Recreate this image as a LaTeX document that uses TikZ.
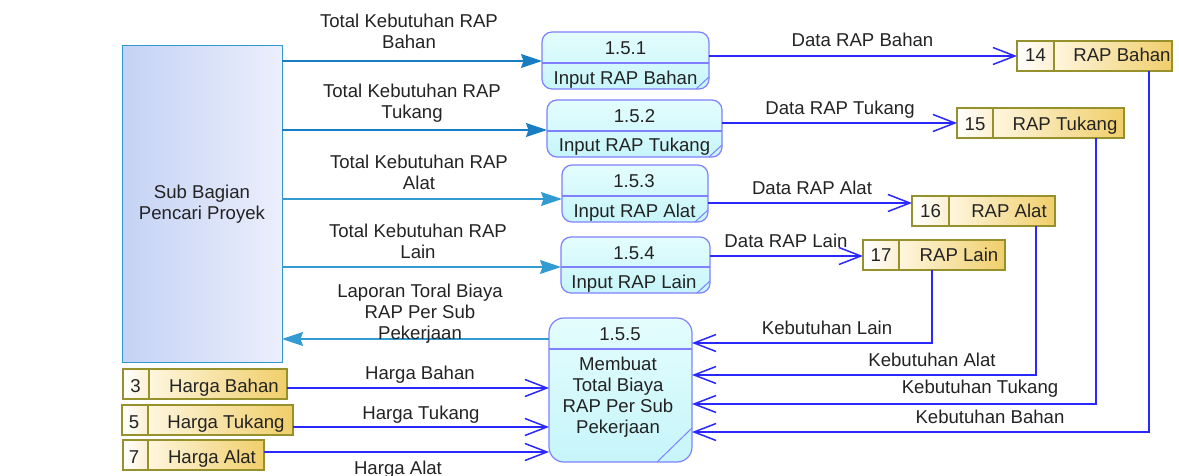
\documentclass[tikz,border=0pt]{standalone}
\usepackage{fontspec}
\setmainfont{Liberation Sans}
\usetikzlibrary{arrows.meta,calc}
\definecolor{procfillA}{RGB}{228,253,253}
\definecolor{procfillB}{RGB}{198,245,250}
\definecolor{procdraw}{RGB}{128,128,255}
\definecolor{entfillA}{RGB}{196,210,244}
\definecolor{entfillB}{RGB}{236,239,252}
\definecolor{entdraw}{RGB}{50,150,210}
\definecolor{entflowA}{RGB}{25,125,195}
\definecolor{entflowB}{RGB}{50,155,210}
\definecolor{flowblue}{RGB}{40,40,255}
\definecolor{stdraw}{RGB}{150,145,45}
\definecolor{stnumA}{RGB}{255,255,255}
\definecolor{stnumB}{RGB}{252,240,210}
\definecolor{stnameA}{RGB}{254,246,222}
\definecolor{stnameB}{RGB}{240,206,106}
\definecolor{txt}{RGB}{35,35,35}
\newcommand\storeparts[2]{%
  \draw[stname] (#1.north -| #2,0) rectangle (#1.south east);
  \draw[stnum] (#1.north west) rectangle (#1.south -| #2,0);
}
\begin{document}
\begin{tikzpicture}[x=1pt,y=-1pt,
  every node/.style={font=\fontsize{18.6}{21}\selectfont, text=txt, inner sep=0pt, outer sep=0pt},
  lbl/.style={align=center},
  one/.style={text height=13pt, text depth=0pt},
  proc/.style={draw=procdraw, line width=1.2pt, top color=procfillA, bottom color=procfillB, rounded corners=10pt, anchor=north west},
  procline/.style={draw=procdraw, line width=1.2pt},
  ent/.style={draw=entdraw, line width=1pt, left color=entfillA, right color=entfillB, anchor=north west, align=center},
  store/.style={anchor=north west},
  stname/.style={draw=stdraw, line width=1.2pt, left color=stnameA, right color=stnameB},
  stnum/.style={draw=stdraw, line width=1.2pt, left color=stnumA, right color=stnumB},
  eflow/.style={draw=entflowB, line width=1.4pt, -{Stealth[length=21pt,width=14pt,inset=2.5pt]}},
  eflowdark/.style={eflow, draw=entflowA},
  dflow/.style={draw=flowblue, line width=1.5pt, -{Straight Barb[length=22pt,width=17pt]}}
]
\useasboundingbox (0,0) rectangle (1179,476);

% external entity
\node[ent, minimum width=160pt, minimum height=316pt] (ent) at (122,46) {Sub Bagian\\Pencari Proyek};

% processes
\node[proc, minimum width=167pt, minimum height=57pt] (p1) at (542,32) {};
\node[proc, minimum width=175pt, minimum height=57pt] (p2) at (547,100) {};
\node[proc, minimum width=146pt, minimum height=57pt] (p3) at (562,165) {};
\node[proc, minimum width=149pt, minimum height=56pt] (p4) at (561,237) {};
\node[proc, rounded corners=15pt, minimum width=143pt, minimum height=144pt] (p5) at (549,318) {};
\draw[procline] (p1.west |- 0,63) -- (p1.east |- 0,63);
\draw[procline] (p2.west |- 0,131) -- (p2.east |- 0,131);
\draw[procline] (p3.west |- 0,196) -- (p3.east |- 0,196);
\draw[procline] (p4.west |- 0,267) -- (p4.east |- 0,267);
\draw[procline] (p5.west |- 0,349) -- (p5.east |- 0,349);
\draw[procline, line width=1pt] ([yshift=12pt]p1.south east) -- ([xshift=-13pt]p1.south east);
\draw[procline, line width=1pt] ([yshift=12pt]p2.south east) -- ([xshift=-13pt]p2.south east);
\draw[procline, line width=1pt] ([yshift=12pt]p3.south east) -- ([xshift=-13pt]p3.south east);
\draw[procline, line width=1pt] ([yshift=12pt]p4.south east) -- ([xshift=-13pt]p4.south east);
\draw[procline, line width=1pt] ([yshift=34pt]p5.south east) -- ([xshift=-35pt]p5.south east);
\node[one] (n1) at (625.5,48.5) {1.5.1};
\node[one] (t1) at (625.5,78) {Input RAP Bahan};
\node[one] (n2) at (634.5,116) {1.5.2};
\node[one] (t2) at (634.5,145) {Input RAP Tukang};
\node[one] (n3) at (634,181) {1.5.3};
\node[one] (t3) at (634.5,211) {Input RAP Alat};
\node[one] (n4) at (634,252.5) {1.5.4};
\node[one] (t4) at (634,282) {Input RAP Lain};
\node[one] (n5) at (620,333.5) {1.5.5};
\node[lbl] (t5) at (618,397.5) {Membuat\\Total Biaya\\RAP Per Sub\\Pekerjaan};

% data stores
\node[store, minimum width=155pt, minimum height=30pt] (s14) at (1017,41) {};
\node[store, minimum width=167pt, minimum height=30pt] (s15) at (957,108) {};
\node[store, minimum width=143pt, minimum height=30pt] (s16) at (912,196) {};
\node[store, minimum width=142pt, minimum height=30pt] (s17) at (863,240) {};
\node[store, minimum width=164pt, minimum height=30pt] (s3) at (123,369) {};
\node[store, minimum width=171pt, minimum height=30pt] (s5) at (122,405) {};
\node[store, minimum width=141pt, minimum height=30pt] (s7) at (123,440) {};
\storeparts{s14}{1054}
\storeparts{s15}{993}
\storeparts{s16}{949}
\storeparts{s17}{899}
\storeparts{s3}{149}
\storeparts{s5}{148}
\storeparts{s7}{148}
\node[one] (sn14) at (1035.5,55.5) {14};
\node[one] (st14) at (1122,55.5) {RAP Bahan};
\node[one] (sn15) at (975,124) {15};
\node[one] (st15) at (1065,124) {RAP Tukang};
\node[one] (sn16) at (930.5,211) {16};
\node[one] (st16) at (1009,211) {RAP Alat};
\node[one] (sn17) at (881,255) {17};
\node[one] (st17) at (959,255) {RAP Lain};
\node[one] (sn3) at (135.5,386) {3};
\node[one] (st3) at (224,386) {Harga Bahan};
\node[one] (sn5) at (134,422) {5};
\node[one] (st5) at (226,422) {Harga Tukang};
\node[one] (sn7) at (134,456.5) {7};
\node[one] (st7) at (212,456.5) {Harga Alat};

% flows from / to the entity
\draw[eflowdark] (ent.east |- 0,61) -- (p1.west |- 0,61);
\draw[eflowdark] (ent.east |- 0,130) -- (p2.west |- 0,130);
\draw[eflow] (ent.east |- 0,199) -- (p3.west |- 0,199);
\draw[eflow] (ent.east |- 0,267) -- (p4.west |- 0,267);
\draw[eflow] (p5.west |- 0,339) -- (ent.east |- 0,339);
\node[lbl] (l1) at (409,31.5) {Total Kebutuhan RAP\\Bahan};
\node[lbl] (l2) at (412,103.5) {Total Kebutuhan RAP\\Tukang};
\node[lbl] (l3) at (419,172.5) {Total Kebutuhan RAP\\Alat};
\node[lbl] (l4) at (418,241.5) {Total Kebutuhan RAP\\Lain};
\node[lbl] (l5) at (420,314) {Laporan Toral Biaya\\RAP Per Sub\\Pekerjaan};

% flows to stores
\draw[dflow] (p1.east |- s14.west) -- (s14.west);
\draw[dflow] (p2.east |- s15.west) -- (s15.west);
\draw[dflow] (p3.east |- 0,203) -- (s16.west |- 0,203);
\draw[dflow] (p4.east |- 0,256) -- (s17.west |- 0,256);
\node[one] (d1) at (862.5,40) {Data RAP Bahan};
\node[one] (d2) at (840,108) {Data RAP Tukang};
\node[one] (d3) at (812,188) {Data RAP Alat};
\node[one] (d4) at (786,241) {Data RAP Lain};

% flows from stores to 1.5.5
\draw[dflow] (s17.south -| 932,0) |- (p5.east |- 0,343);
\draw[dflow] (s16.south -| 1036,0) |- (p5.east |- 0,375);
\draw[dflow] (s15.south -| 1096,0) |- (p5.east |- 0,404);
\draw[dflow] (s14.south -| 1149,0) |- (p5.east |- 0,432);
\node[one] (k1) at (827,327.5) {Kebutuhan Lain};
\node[one] (k2) at (932,360) {Kebutuhan Alat};
\node[one] (k3) at (980,386.5) {Kebutuhan Tukang};
\node[one] (k4) at (990,416.5) {Kebutuhan Bahan};

% price flows
\draw[dflow] (s3.east |- 0,388) -- (p5.west |- 0,388);
\draw[dflow] (s5.east |- 0,427) -- (p5.west |- 0,427);
\draw[dflow] (s7.east |- 0,452) -- (p5.west |- 0,452);
\node[one] (h1) at (420,372.5) {Harga Bahan};
\node[one] (h2) at (421,413) {Harga Tukang};
\node[one] (h3) at (398,467.5) {Harga Alat};
\end{tikzpicture}
\end{document}
